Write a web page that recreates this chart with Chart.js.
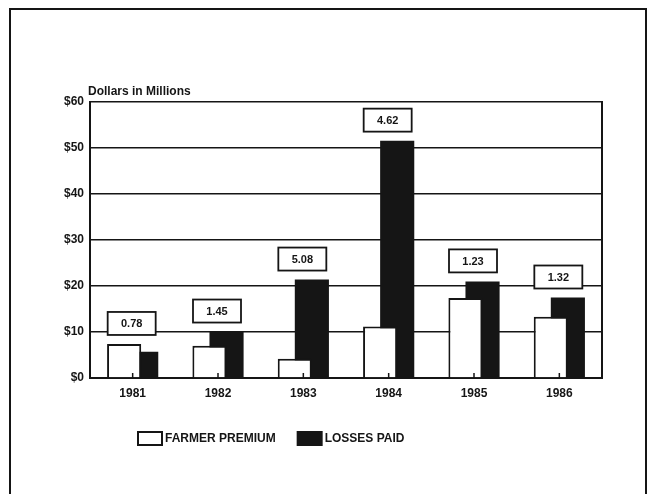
<!DOCTYPE html>
<html>
<head>
<meta charset="utf-8">
<script src="https://cdn.jsdelivr.net/npm/chart.js@4.4.1/dist/chart.umd.min.js"></script>
<style>
  html, body { margin: 0; padding: 0; background: #fff; }
  #wrap { width: 648px; height: 494px; position: relative; }
</style>
</head>
<body>
<div id="wrap"><canvas id="barChart"></canvas></div>
<script>
// values, $ millions
const years = ['1981', '1982', '1983', '1984', '1985', '1986'];
const farmerPremium = [7.4, 7.0, 4.2, 11.2, 17.4, 13.3];
const lossesPaid = [5.7, 10.1, 21.4, 51.6, 21.0, 17.5];
const lossRatios = ['0.78', '1.45', '5.08', '4.62', '1.23', '1.32'];
const yTicks = [0, 10, 20, 30, 40, 50, 60];

const INK = '#151515';
const FONT = "'Liberation Sans', Arial, sans-serif";

const pagePlugin = {
    id: 'page',
    beforeDraw(chart) {
        const c = chart.ctx;
        c.save();
        c.fillStyle = '#fff';
        c.fillRect(0, 0, chart.width, chart.height);
        c.strokeStyle = INK;
        c.lineWidth = 2;
        c.strokeRect(10, 9, 636, 520);
        c.restore();
    },
    afterDatasetsDraw(chart) {
        const c = chart.ctx;
        const x = chart.scales.x;
        const area = chart.chartArea;
        c.save();
        // small category ticks standing on the x axis
        c.strokeStyle = INK;
        c.lineWidth = 1.5;
        years.forEach((y, i) => {
            const px = x.getPixelForTick(i);
            c.beginPath();
            c.moveTo(px, area.bottom);
            c.lineTo(px, area.bottom - 5);
            c.stroke();
        });
        // loss ratio boxes above each pair
        const m0 = chart.getDatasetMeta(0).data;
        const m1 = chart.getDatasetMeta(1).data;
        c.font = 'bold 11px ' + FONT;
        c.textAlign = 'center';
        c.textBaseline = 'middle';
        lossRatios.forEach((txt, i) => {
            const top = Math.min(m0[i].y, m1[i].y);
            const cx = x.getPixelForTick(i) - 1;
            const w = 48, h = 23;
            const by = top - 9 - h;
            c.fillStyle = '#fff';
            c.fillRect(cx - w / 2, by, w, h);
            c.lineWidth = 1.8;
            c.strokeRect(cx - w / 2, by, w, h);
            c.fillStyle = INK;
            c.fillText(txt, cx, by + h / 2 + 1);
        });
        c.restore();
    },
    afterDraw(chart) {
        const c = chart.ctx;
        c.save();
        c.fillStyle = INK;
        c.font = 'bold 12px ' + FONT;
        c.textBaseline = 'alphabetic';
        c.textAlign = 'left';
        c.fillText('Dollars in Millions', 88, 95);
        // legend
        let lx = 138;
        const ly = 432;
        chart.data.datasets.forEach((ds) => {
            c.fillStyle = ds.backgroundColor;
            c.fillRect(lx, ly, 24, 13);
            c.strokeStyle = INK;
            c.lineWidth = 2;
            c.strokeRect(lx, ly, 24, 13);
            c.fillStyle = INK;
            c.font = 'bold 12px ' + FONT;
            c.textBaseline = 'middle';
            c.fillText(ds.label, lx + 27, ly + 7);
            lx += 27 + c.measureText(ds.label).width + 22;
        });
        c.restore();
    }
};

new Chart(document.getElementById('barChart'), {
    type: 'bar',
    data: {
        labels: years,
        datasets: [{
            label: 'FARMER PREMIUM',
            data: farmerPremium,
            backgroundColor: '#fff',
            borderColor: INK,
            borderWidth: 2,
            borderSkipped: 'bottom'
        }, {
            label: 'LOSSES PAID',
            data: lossesPaid,
            backgroundColor: INK,
            borderColor: INK,
            borderWidth: 0
        }]
    },
    options: {
        responsive: true,
        maintainAspectRatio: false,
        animation: false,
        categoryPercentage: 0.4,
        barPercentage: 2.0,
        layout: { padding: { top: 102, left: 10, right: 46, bottom: 86 } },
        plugins: {
            legend: { display: false },
            tooltip: { enabled: false }
        },
        scales: {
            x: {
                grid: { display: false },
                border: { display: true, color: INK, width: 2 },
                ticks: { color: INK, font: { family: FONT, size: 12, weight: 'bold' }, padding: 0 },
                afterFit(s) { s.height = 30; }
            },
            y: {
                min: 0,
                max: 60,
                afterBuildTicks(s) { s.ticks = yTicks.map(v => ({ value: v })); },
                grid: { color: INK, lineWidth: 1.5, drawTicks: false },
                border: { display: true, color: INK, width: 2 },
                ticks: {
                    color: INK,
                    padding: 6,
                    font: { family: FONT, size: 12, weight: 'bold' },
                    callback: v => '$' + v
                },
                afterFit(s) { s.width = 80; }
            },
            yRight: {
                position: 'right',
                min: 0,
                max: 60,
                grid: { display: false },
                ticks: { display: false },
                border: { display: true, color: INK, width: 2 },
                afterFit(s) { s.width = 0; }
            }
        }
    },
    plugins: [pagePlugin]
});
</script>
</body>
</html>
